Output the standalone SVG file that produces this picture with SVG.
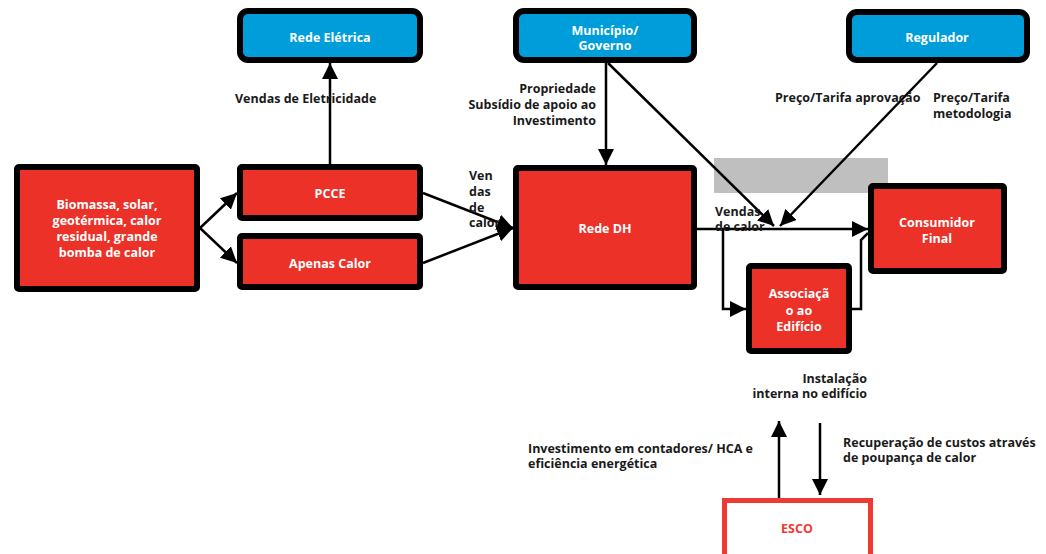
<svg xmlns="http://www.w3.org/2000/svg" width="1046" height="554" viewBox="0 0 1046 554">
  <defs>
    <style>
      .red { fill: #ec3129; stroke: #000; stroke-width: 6; }
      .blue { fill: #009ddb; stroke: #000; stroke-width: 6; }
      .esco { fill: #fff; stroke: #ee3a33; stroke-width: 5; }
      .nt { font-family: "Open Sans", Lato, sans-serif; font-weight: bold; font-size: 12.5px; fill: #fff; text-anchor: middle; dominant-baseline: central; }
      .lb { font-family: "Open Sans", Lato, sans-serif; font-weight: bold; font-size: 12.5px; fill: #1a1a1a; dominant-baseline: central; }
      .ln { fill: none; stroke: #000; stroke-width: 2.5; }
      .ar { fill: none; stroke: #000; stroke-width: 2.5; marker-end: url(#head); }
    </style>
    <marker id="head" viewBox="0 0 10 10" refX="10" refY="5" markerUnits="userSpaceOnUse" markerWidth="16" markerHeight="16" orient="auto">
      <path d="M0,0 L10,5 L0,10 z" fill="#000"/>
    </marker>
  </defs>

  <rect x="714" y="158" width="174" height="35" fill="#bfbfbf"/>

  <g id="connectors">
    <line class="ar" x1="200" y1="228" x2="237" y2="193"/>
    <line class="ar" x1="200" y1="228" x2="237" y2="263"/>
    <line class="ar" x1="330" y1="164" x2="330" y2="63"/>
    <line class="ar" x1="423" y1="193" x2="513" y2="228"/>
    <line class="ar" x1="423" y1="263" x2="513" y2="228"/>
    <line class="ar" x1="606" y1="63" x2="606" y2="165"/>
    <line class="ar" x1="608" y1="63" x2="774" y2="226"/>
    <line class="ar" x1="937" y1="63" x2="780" y2="226"/>
    <line class="ar" x1="697" y1="229" x2="868" y2="229"/>
    <polyline class="ar" points="723,229 723,309 746,309"/>
    <polyline class="ln" points="852,309 861,309 861,240 868,233"/>
    <line class="ar" x1="779" y1="498" x2="779" y2="421"/>
    <line class="ar" x1="820" y1="423" x2="820" y2="495"/>
  </g>

  <g id="biomassa">
    <rect class="red" x="17" y="167" width="180" height="122" rx="2"/>
    <text class="nt" x="107" y="204">Biomassa, solar,</text>
    <text class="nt" x="107" y="220">geotérmica, calor</text>
    <text class="nt" x="107" y="236">residual, grande</text>
    <text class="nt" x="107" y="252">bomba de calor</text>
  </g>
  <g id="pcce">
    <rect class="red" x="240" y="167" width="180" height="51" rx="2"/>
    <text class="nt" x="330" y="193">PCCE</text>
  </g>
  <g id="apenas-calor">
    <rect class="red" x="240" y="236" width="180" height="51" rx="2"/>
    <text class="nt" x="330" y="263">Apenas Calor</text>
  </g>
  <g id="rede-eletrica">
    <rect class="blue" x="240" y="11" width="180" height="49" rx="8"/>
    <text class="nt" x="330" y="37">Rede Elétrica</text>
  </g>
  <g id="municipio">
    <rect class="blue" x="516" y="11" width="178" height="49" rx="8"/>
    <text class="nt" x="605" y="30">Município/</text>
    <text class="nt" x="605" y="45">Governo</text>
  </g>
  <g id="regulador">
    <rect class="blue" x="849" y="12" width="178" height="48" rx="8"/>
    <text class="nt" x="937" y="37">Regulador</text>
  </g>
  <g id="rede-dh">
    <rect class="red" x="516" y="168" width="178" height="119" rx="2"/>
    <text class="nt" x="605" y="228">Rede DH</text>
  </g>
  <g id="consumidor">
    <rect class="red" x="871" y="186" width="133" height="85" rx="2"/>
    <text class="nt" x="937" y="222">Consumidor</text>
    <text class="nt" x="937" y="238">Final</text>
  </g>
  <g id="associacao">
    <rect class="red" x="749" y="266" width="100" height="85" rx="2"/>
    <text class="nt" x="799" y="293">Associaçã</text>
    <text class="nt" x="799" y="310">o ao</text>
    <text class="nt" x="799" y="326">Edifício</text>
  </g>
  <g id="esco">
    <rect class="esco" x="724.5" y="500.5" width="146" height="70"/>
    <text class="nt" x="797" y="528" style="fill:#ee3a33">ESCO</text>
  </g>

  <g id="labels">
    <text class="lb" x="235" y="98">Vendas de Eletricidade</text>
    <text class="lb" x="469" y="175">Ven</text>
    <text class="lb" x="469" y="191">das</text>
    <text class="lb" x="469" y="207">de</text>
    <text class="lb" x="469" y="222">calor</text>
    <text class="lb" x="596" y="88" text-anchor="end">Propriedade</text>
    <text class="lb" x="596" y="104" text-anchor="end">Subsídio de apoio ao</text>
    <text class="lb" x="596" y="120" text-anchor="end">Investimento</text>
    <text class="lb" x="775" y="97">Preço/Tarifa aprovação</text>
    <text class="lb" x="933" y="97">Preço/Tarifa</text>
    <text class="lb" x="933" y="113">metodologia</text>
    <text class="lb" x="715" y="211">Vendas</text>
    <text class="lb" x="715" y="226">de calor</text>
    <text class="lb" x="867" y="378" text-anchor="end">Instalação</text>
    <text class="lb" x="867" y="393" text-anchor="end">interna no edifício</text>
    <text class="lb" x="528" y="448">Investimento em contadores/ HCA e</text>
    <text class="lb" x="528" y="463">eficiência energética</text>
    <text class="lb" x="843" y="442">Recuperação de custos através</text>
    <text class="lb" x="843" y="457">de poupança de calor</text>
  </g>
</svg>
